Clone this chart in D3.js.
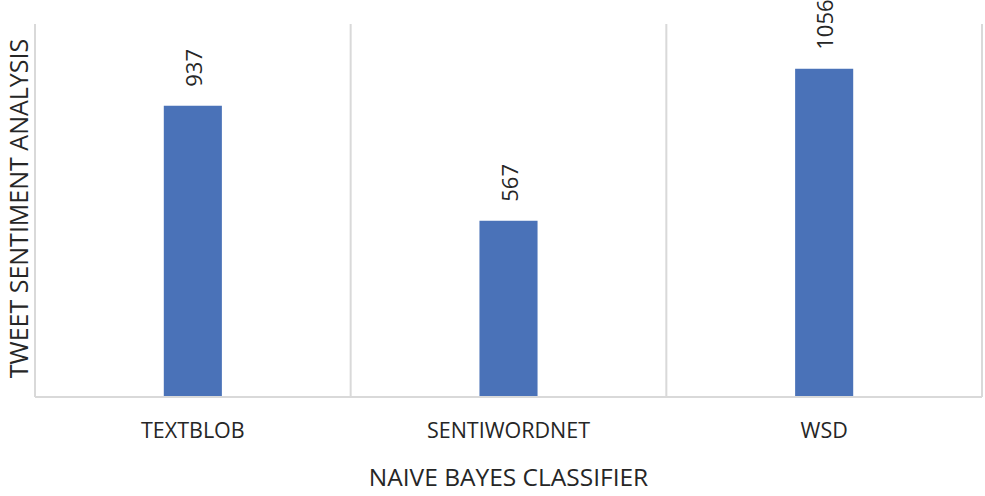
<!DOCTYPE html>
<html>
<head>
<meta charset="utf-8">
<script src="https://cdn.jsdelivr.net/npm/d3@7"></script>
<style>
  html, body { margin: 0; padding: 0; background: #fff; }
  svg { display: block; }
  text { font-family: "Open Sans", "Liberation Sans", sans-serif; fill: #262626; }
</style>
</head>
<body>
<svg id="chart" width="985" height="496"></svg>
<script>
const categories = ["TEXTBLOB", "SENTIWORDNET", "WSD"];
const values = [937, 567, 1056];
const yDomain = [0, 1200];
const xTitle = "NAIVE BAYES CLASSIFIER";
const yTitle = "TWEET SENTIMENT ANALYSIS";

const W = 985, H = 496;
const margin = { left: 35, right: 3, top: 24, bottom: 99 };
const svg = d3.select("#chart");
const iw = W - margin.left - margin.right;
const ih = H - margin.top - margin.bottom;
const g = svg.append("g").attr("transform", `translate(${margin.left},${margin.top})`);

const x = d3.scaleBand().domain(categories).range([0, iw]).paddingInner(0).paddingOuter(0);
const y = d3.scaleLinear().domain(yDomain).range([ih, 0]);
const barW = x.bandwidth() * 0.184;

// category boundary gridlines
const bounds = categories.map(c => x(c)).concat([iw]);
g.selectAll("line.grid").data(bounds).enter().append("line")
  .attr("class", "grid")
  .attr("x1", d => d).attr("x2", d => d)
  .attr("y1", 0).attr("y2", ih)
  .attr("stroke", "#d9d9d9").attr("stroke-width", 2);

// bars
g.selectAll("rect.bar").data(values).enter().append("rect")
  .attr("class", "bar")
  .attr("x", (d, i) => x(categories[i]) + x.bandwidth() / 2 - barW / 2)
  .attr("width", barW)
  .attr("y", d => y(d))
  .attr("height", d => ih - y(d))
  .attr("fill", "#4a72b8");

// baseline
g.append("line").attr("x1", 0).attr("x2", iw).attr("y1", ih).attr("y2", ih)
  .attr("stroke", "#d9d9d9").attr("stroke-width", 2);

// value labels
g.selectAll("text.val").data(values).enter().append("text")
  .attr("class", "val")
  .attr("transform", (d, i) => `translate(${x(categories[i]) + x.bandwidth() / 2},${y(d) - 19}) rotate(-90)`)
  .attr("text-anchor", "start")
  .attr("dominant-baseline", "central")
  .style("font-size", "22px")
  .text(d => d);

// category labels
g.selectAll("text.cat").data(categories).enter().append("text")
  .attr("class", "cat")
  .attr("x", d => x(d) + x.bandwidth() / 2)
  .attr("y", ih + 41)
  .attr("text-anchor", "middle")
  .style("font-size", "21.5px")
  .text(d => d);

// axis titles
svg.append("text")
  .attr("x", margin.left + iw / 2)
  .attr("y", 486)
  .attr("text-anchor", "middle")
  .style("font-size", "24.5px")
  .text(xTitle);

svg.append("text")
  .attr("transform", `translate(27.5,${(32 + 385) / 2}) rotate(-90)`)
  .attr("text-anchor", "middle")
  .style("font-size", "25px")
  .text(yTitle);
</script>
</body>
</html>
